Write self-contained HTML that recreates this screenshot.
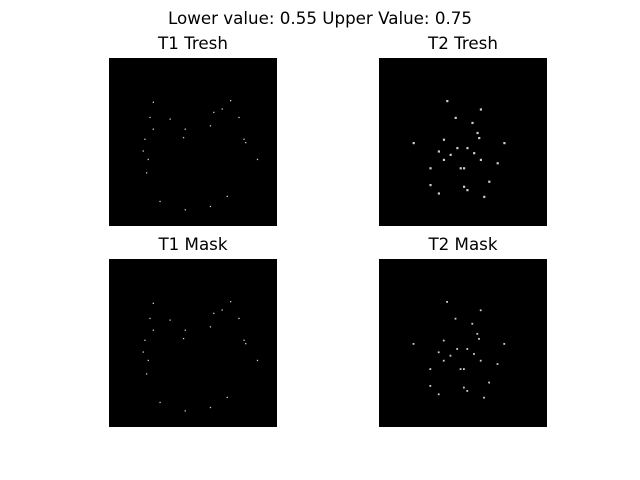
<!DOCTYPE html>
<html><head><meta charset="utf-8"><style>
body{margin:0;background:#fff;}
svg{display:block;font-family:"DejaVu Sans","Liberation Sans",sans-serif;}
</style></head><body>
<svg id="fig" width="640" height="480" viewBox="0 0 640 480">
<rect width="640" height="480" fill="#fff"/>
<text x="320" y="24" font-size="16.7" text-anchor="middle">Lower value: 0.55 Upper Value: 0.75</text>
<g id="panels"></g>
</svg>
<script>
const panelTitles=["T1 Tresh","T2 Tresh","T1 Mask","T2 Mask"];
const panelX=[109,379,109,379];
const panelY=[58,58,259,259];
// speckles in normalized image coords (0-1), approx from picture
const t1Spots=[[0.26,0.26],[0.24,0.35],[0.21,0.48],[0.2,0.55],[0.23,0.6],[0.22,0.68],[0.45,0.42],[0.44,0.47],[0.6,0.4],[0.62,0.32],[0.72,0.25],[0.77,0.35],[0.8,0.48],[0.81,0.5],[0.36,0.36],[0.3,0.85],[0.45,0.9],[0.6,0.88],[0.7,0.82],[0.26,0.42],[0.67,0.3],[0.88,0.6]];
const t2Spots=[[0.35,0.55],[0.38,0.6],[0.42,0.57],[0.46,0.53],[0.52,0.53],[0.56,0.56],[0.6,0.6],[0.38,0.48],[0.59,0.47],[0.58,0.44],[0.5,0.65],[0.48,0.65],[0.5,0.76],[0.52,0.78],[0.3,0.75],[0.65,0.73],[0.2,0.5],[0.74,0.5],[0.4,0.25],[0.6,0.3],[0.3,0.65],[0.7,0.62],[0.35,0.8],[0.62,0.82],[0.45,0.35],[0.55,0.38]];
const panelSpots=[t1Spots,t2Spots,t1Spots,t2Spots];
const W=168,H=168;
const g=document.getElementById('panels');
const NS="http://www.w3.org/2000/svg";
panelTitles.forEach((t,i)=>{
  const key=t.toLowerCase().replace(/ /g,'-');
  const r=document.createElementNS(NS,'rect');
  r.setAttribute('x',panelX[i]);r.setAttribute('y',panelY[i]);
  r.setAttribute('width',W);r.setAttribute('height',H);r.setAttribute('fill','#000');
  
  
  g.appendChild(r);
  const tx=document.createElementNS(NS,'text');
  tx.setAttribute('x',panelX[i]+W/2);tx.setAttribute('y',panelY[i]-9);
  tx.setAttribute('font-size','16.7');tx.setAttribute('text-anchor','middle');
  tx.textContent=t;
  
  
  g.appendChild(tx);
  const big=(i%2===1)?(i===1?2.2:1.8):1.3;
  panelSpots[i].forEach((p,j)=>{
    const c=document.createElementNS(NS,'rect');
    c.setAttribute('x',panelX[i]+p[0]*W);c.setAttribute('y',panelY[i]+p[1]*H);
    c.setAttribute('width',big);c.setAttribute('height',big);
    c.setAttribute('fill','#ccc');
    
    
    g.appendChild(c);
  });
});
</script>
</body></html>
